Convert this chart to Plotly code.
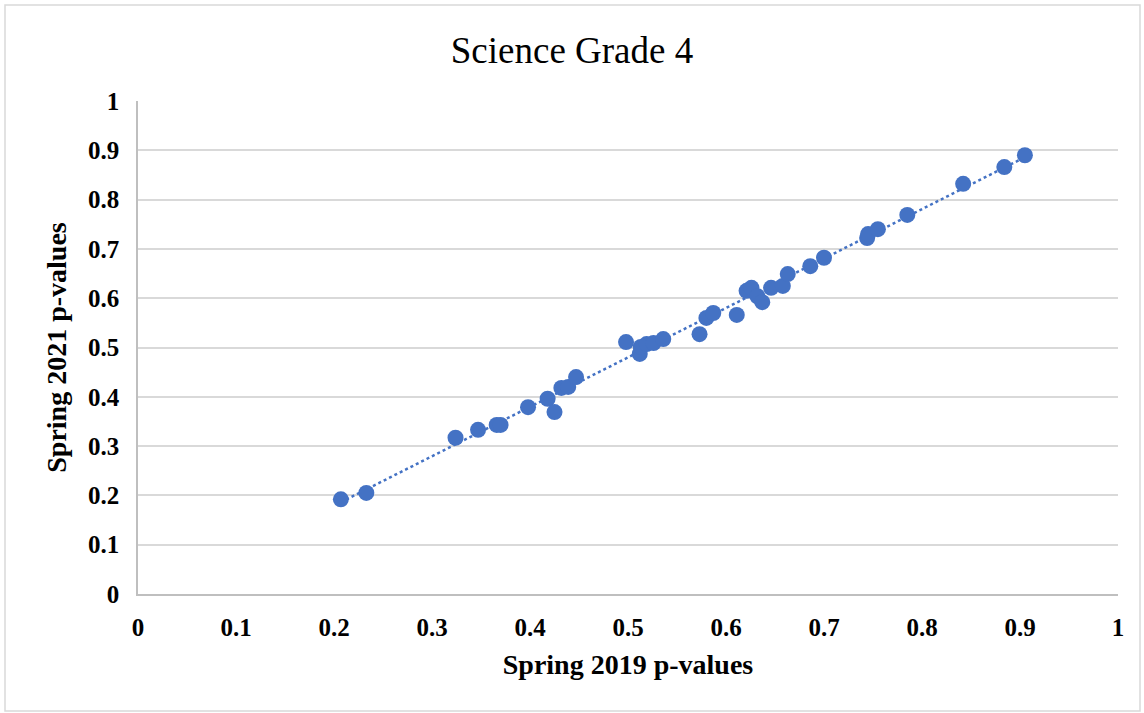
import numpy as np
import plotly.graph_objects as go

# Spring 2019 vs Spring 2021 item p-values
p2019 = [0.207, 0.233, 0.324, 0.347, 0.366, 0.370, 0.398, 0.418, 0.425, 0.432,
         0.439, 0.447, 0.498, 0.512, 0.513, 0.519, 0.526, 0.536, 0.573, 0.580,
         0.587, 0.611, 0.621, 0.626, 0.632, 0.637, 0.646, 0.658, 0.663, 0.686,
         0.700, 0.744, 0.745, 0.755, 0.785, 0.842, 0.884, 0.905]
p2021 = [0.192, 0.205, 0.317, 0.333, 0.343, 0.343, 0.379, 0.396, 0.369, 0.418,
         0.420, 0.440, 0.511, 0.487, 0.501, 0.507, 0.509, 0.517, 0.527, 0.560,
         0.570, 0.566, 0.615, 0.621, 0.604, 0.592, 0.621, 0.625, 0.649, 0.665,
         0.682, 0.722, 0.730, 0.740, 0.769, 0.832, 0.866, 0.890]
tick_vals = [0, 0.1, 0.2, 0.3, 0.4, 0.5, 0.6, 0.7, 0.8, 0.9, 1]
tick_text = ["0", "0.1", "0.2", "0.3", "0.4", "0.5", "0.6", "0.7", "0.8", "0.9", "1"]

blue = "#4472C4"
grid = "#D9D9D9"
font_name = "Liberation Serif, Times New Roman, serif"

# linear trendline
slope, icpt = np.polyfit(p2019, p2021, 1)
tx = [min(p2019), max(p2019)]
ty = [slope * v + icpt for v in tx]

fig = go.Figure()
fig.add_trace(go.Scatter(x=tx, y=ty, mode="lines",
                         line=dict(color=blue, width=2.5, dash="dot"),
                         hoverinfo="skip", showlegend=False))
fig.add_trace(go.Scatter(x=p2019, y=p2021, mode="markers",
                         marker=dict(color=blue, size=16, line=dict(width=0)),
                         showlegend=False))

W, H = 1144, 713
ml, mr, mt, mb = 138, 26, 101, 119
pw, ph = W - ml - mr, H - mt - mb

fig.update_layout(
    width=W, height=H,
    margin=dict(l=ml, r=mr, t=mt, b=mb),
    paper_bgcolor="white", plot_bgcolor="white",
    font=dict(family=font_name, color="black"),
    title=dict(text="Science Grade 4", x=0.5, xanchor="center",
               y=1 - 50 / H, yanchor="middle",
               font=dict(size=37, family=font_name)),
    xaxis=dict(range=[0, 1], tickvals=tick_vals, ticktext=tick_text,
               showgrid=False, zeroline=False, showline=True,
               linecolor="#BFBFBF", linewidth=1.5, ticks="",
               tickfont=dict(size=25, family=font_name, weight="bold"),
               ticklabelstandoff=10,
               title=dict(text="<b>Spring 2019 p-values</b>", standoff=15,
                          font=dict(size=28, family=font_name))),
    yaxis=dict(range=[0, 1], tickvals=tick_vals, ticktext=tick_text,
               showgrid=True, gridcolor=grid, gridwidth=1.5,
               zeroline=False, showline=True,
               linecolor="#BFBFBF", linewidth=1.5, ticks="",
               tickfont=dict(size=25, family=font_name, weight="bold"),
               ticklabelstandoff=12,
               title=dict(text="<b>Spring 2021 p-values</b>", standoff=13,
                          font=dict(size=28, family=font_name))),
)

# chart-area border
fig.add_shape(type="rect", xref="paper", yref="paper", layer="below",
              x0=(5 - ml) / pw, x1=(W - 4 - ml) / pw,
              y0=-(H - 2 - mt - ph) / ph, y1=1 + (mt - 5) / ph,
              line=dict(color=grid, width=1.5))

fig.write_html("out.html", config={"displayModeBar": False},
               post_script="document.body.style.margin='0';document.body.style.overflow='hidden';")
